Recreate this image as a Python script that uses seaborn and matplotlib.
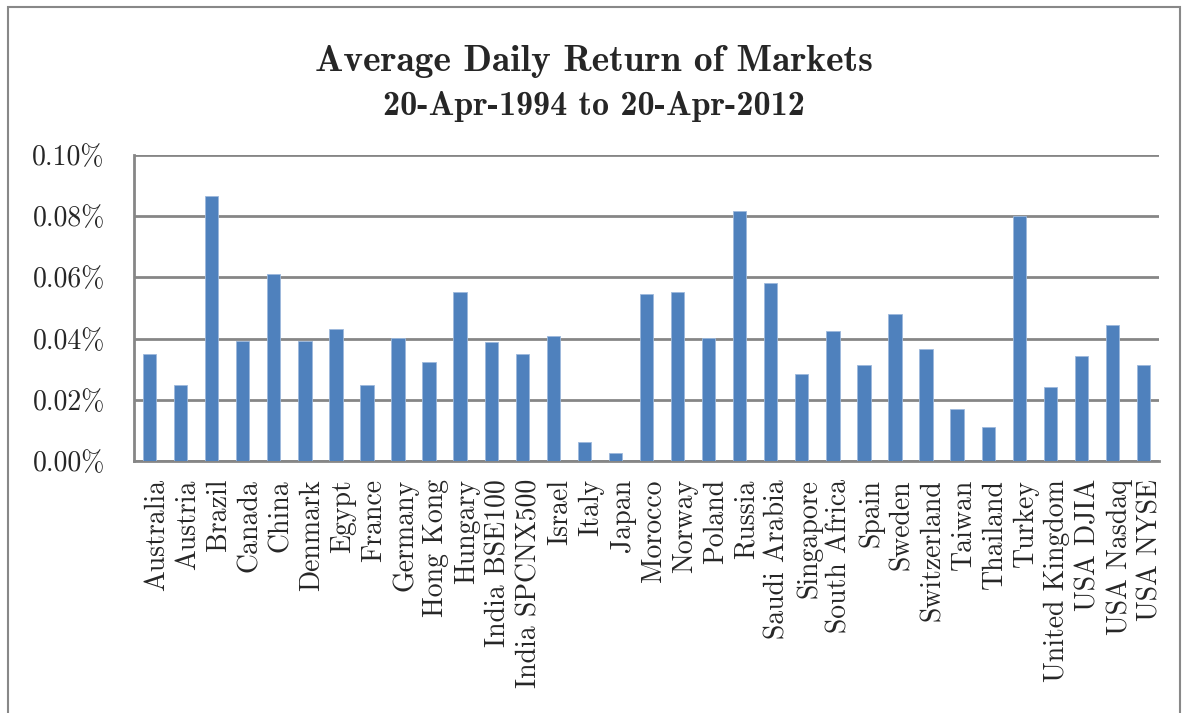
#import packages
import pandas as pd
import matplotlib.pyplot as plt
import matplotlib.transforms as mtransforms
import seaborn as sns
from matplotlib.patches import Rectangle
from matplotlib.ticker import PercentFormatter

#data (average daily return, in %)
markets = ["Australia", "Austria", "Brazil", "Canada", "China", "Denmark", "Egypt",
           "France", "Germany", "Hong Kong", "Hungary", "India BSE100", "India SPCNX500",
           "Israel", "Italy", "Japan", "Morocco", "Norway", "Poland", "Russia",
           "Saudi Arabia", "Singapore", "South Africa", "Spain", "Sweden", "Switzerland",
           "Taiwan", "Thailand", "Turkey", "United Kingdom", "USA DJIA", "USA Nasdaq",
           "USA NYSE"]
avg_return = [0.0350, 0.0248, 0.0865, 0.0393, 0.0611, 0.0393, 0.0430,
              0.0248, 0.0401, 0.0322, 0.0553, 0.0388, 0.0351,
              0.0407, 0.0061, 0.0025, 0.0547, 0.0553, 0.0401, 0.0816,
              0.0583, 0.0285, 0.0424, 0.0314, 0.0481, 0.0365,
              0.0169, 0.0111, 0.0801, 0.0242, 0.0343, 0.0444,
              0.0314]
y_ticks = [0.00, 0.02, 0.04, 0.06, 0.08, 0.10]

df = pd.DataFrame({"market": markets, "ret": avg_return})

sns.set_style("white")
plt.rcParams['font.family'] = ['cmr10', 'DejaVu Serif']
plt.rcParams['axes.formatter.use_mathtext'] = True

fig = plt.figure(figsize=(11.88, 7.13), dpi=100)
ax = fig.add_axes([0.1128, 0.3534, 0.8628, 0.4292])

sns.barplot(data=df, x="market", y="ret", color="#4F81BD", saturation=1,
            width=0.43, edgecolor="#9DB9DC", linewidth=0.6, ax=ax, zorder=3)

ax.set_ylim(0, 0.10)
ax.set_xlim(-0.5, len(markets) - 0.5)
ax.set_yticks(y_ticks)
ax.yaxis.set_major_formatter(PercentFormatter(decimals=2))
ax.set_xlabel("")
ax.set_ylabel("")
ax.grid(axis="y", color="#868686", linewidth=2, zorder=0)
ax.set_axisbelow(True)
for s in ["top", "right"]:
    ax.spines[s].set_visible(False)
for s in ["left", "bottom"]:
    ax.spines[s].set_color("#868686")
    ax.spines[s].set_linewidth(2)
ax.tick_params(axis="y", length=0, pad=21, labelsize=20)
ax.tick_params(axis="x", length=0, pad=13, labelsize=20, rotation=90)

#shift category labels a little to the right like the original
shift = mtransforms.ScaledTranslation(5 / 72, 0, fig.dpi_scale_trans)
for lab in ax.get_xticklabels():
    lab.set_transform(lab.get_transform() + shift)

#titles
fig.text(0.5, 0.8999, "Average Daily Return of Markets", ha="center", va="baseline",
         fontsize=27, family="cmb10")
fig.text(0.5, 0.8387, "20-Apr-1994 to 20-Apr-2012", ha="center", va="baseline",
         fontsize=24.5, family="cmb10")

#chart frame
fig.patches.append(Rectangle((0.0067, -0.1), 0.9866, 1.0902, transform=fig.transFigure,
                             fill=False, edgecolor="#888888", linewidth=1.5))

plt.savefig("out.png", dpi=100)
